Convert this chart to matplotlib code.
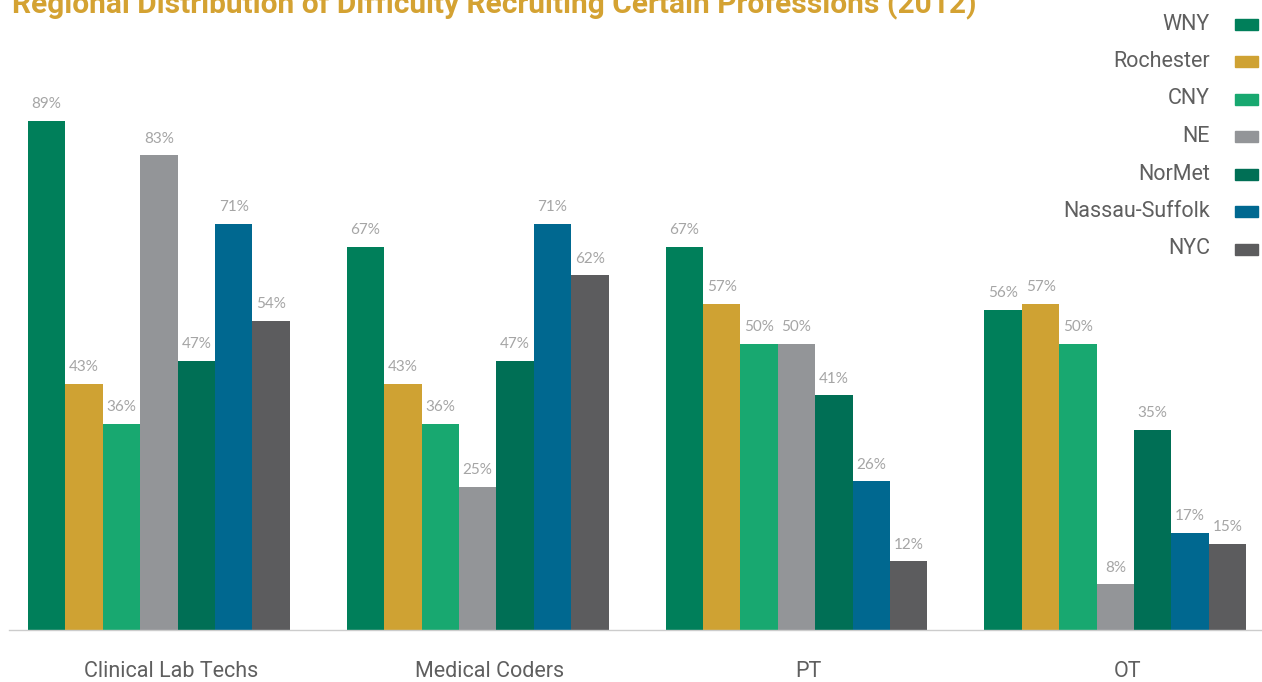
import matplotlib
matplotlib.use('Agg')
import matplotlib.pyplot as plt
import matplotlib.transforms as mtransforms
from matplotlib.patches import Rectangle
from matplotlib import font_manager
import numpy as np

categories = ['Clinical Lab Techs', 'Medical Coders', 'PT', 'OT']
regions = ['WNY', 'Rochester', 'CNY', 'NE', 'NorMet', 'Nassau-Suffolk', 'NYC']
colors = ['#007f5a', '#cfa233', '#18a870', '#939598', '#006f55', '#006890', '#5c5c5e']

wny = [89, 67, 67, 56]
rochester = [43, 43, 57, 57]
cny = [36, 36, 50, 50]
ne = [83, 25, 50, 8]
normet = [47, 47, 41, 35]
nassau = [71, 71, 26, 17]
nyc = [54, 62, 12, 15]
series = [wny, rochester, cny, ne, normet, nassau, nyc]

names = {f.name for f in font_manager.fontManager.ttflist}
narrow = 'Liberation Sans Narrow' if 'Liberation Sans Narrow' in names else 'Roboto'
light = 'Lato' if 'Lato' in names else 'DejaVu Sans'

W, H = 1262, 682
fig = plt.figure(figsize=(W / 100, H / 100), dpi=100)
ax = fig.add_axes([9 / W, 52 / H, 1253 / W, 572 / H])

x = np.arange(len(categories))
bw = 0.821 / 7
for i, (vals, c) in enumerate(zip(series, colors)):
    pos = x - 0.821 / 2 + bw * (i + 0.5)
    bars = ax.bar(pos, vals, width=bw, color=c, edgecolor='none')
    for b, v in zip(bars, vals):
        ax.annotate(f'{v}%', (b.get_x() + b.get_width() / 2, v),
                    xytext=(0, 7), textcoords='offset points',
                    ha='center', va='bottom', fontsize=11,
                    color='#a5a5a5', family=light)

ax.set_xlim(-0.47, 3.46)
ax.set_ylim(0, 100)
for s in ['top', 'right', 'left']:
    ax.spines[s].set_visible(False)
ax.spines['bottom'].set_color('#cccccc')
ax.spines['bottom'].set_linewidth(1)
ax.set_yticks([])
ax.set_xticks(x)
ax.set_xticklabels(categories, family=narrow, fontsize=15.5, color='#5f5f5f')
ax.tick_params(axis='x', length=0, pad=22)
# category labels sit a little right of the group centre in the original
shift = mtransforms.ScaledTranslation(12 / 100, 0, fig.dpi_scale_trans)
for lab in ax.get_xticklabels():
    lab.set_transform(lab.get_transform() + shift)

# legend on the right: label then swatch
for i, (name, c) in enumerate(zip(regions, colors)):
    yc = 24 + i * 37.5
    fig.text(1210 / W, 1 - yc / H, name, ha='right', va='center',
             family=narrow, fontsize=15.5, color='#5f5f5f')
    fig.patches.append(Rectangle((1235 / W, 1 - (yc + 5.5) / H), 23 / W, 11 / H,
                                 transform=fig.transFigure, color=c))

fig.text(12 / W, 1 - 13 / H,
         'Regional Distribution of Difficulty Recruiting Certain Professions (2012)',
         ha='left', va='baseline', family=narrow, fontweight='bold',
         fontsize=21.5, color='#d4a232')

fig.savefig('out.png', dpi=100)
